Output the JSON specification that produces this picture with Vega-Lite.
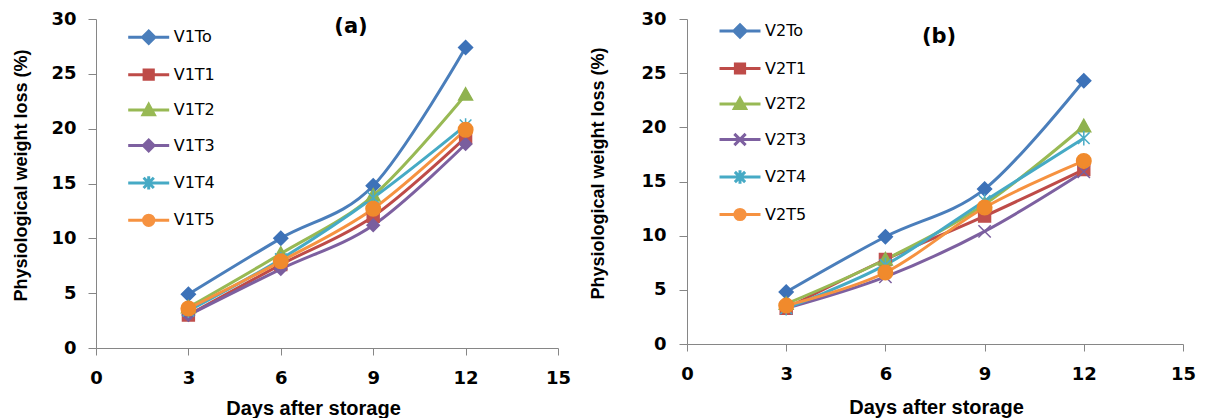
{
  "$schema": "https://vega.github.io/schema/vega-lite/v6.json",
  "background": "white",
  "padding": {"left": 12, "top": 10, "right": 0, "bottom": 0},
  "config": {
    "view": {"stroke": null},
    "axis": {
      "grid": false,
      "domainColor": "#868686",
      "tickColor": "#868686",
      "labelFont": "DejaVu Sans",
      "labelFontSize": 18,
      "labelFontWeight": "bold",
      "labelColor": "black",
      "titleColor": "black",
      "titleFont": "Liberation Sans",
      "titleFontWeight": "bold",
      "labelFlush": false,
      "labelOverlap": false
    }
  },
  "datasets": {
    "a": [
      {"series": "V1To", "day": 3, "loss": 4.9}, {"series": "V1To", "day": 6, "loss": 10.0}, {"series": "V1To", "day": 9, "loss": 14.8}, {"series": "V1To", "day": 12, "loss": 27.4},
      {"series": "V1T1", "day": 3, "loss": 3.0}, {"series": "V1T1", "day": 6, "loss": 7.6}, {"series": "V1T1", "day": 9, "loss": 12.0}, {"series": "V1T1", "day": 12, "loss": 19.2},
      {"series": "V1T2", "day": 3, "loss": 3.7}, {"series": "V1T2", "day": 6, "loss": 8.6}, {"series": "V1T2", "day": 9, "loss": 13.9}, {"series": "V1T2", "day": 12, "loss": 23.1},
      {"series": "V1T3", "day": 3, "loss": 3.0}, {"series": "V1T3", "day": 6, "loss": 7.2}, {"series": "V1T3", "day": 9, "loss": 11.2}, {"series": "V1T3", "day": 12, "loss": 18.6},
      {"series": "V1T4", "day": 3, "loss": 3.4}, {"series": "V1T4", "day": 6, "loss": 8.1}, {"series": "V1T4", "day": 9, "loss": 13.7}, {"series": "V1T4", "day": 12, "loss": 20.3},
      {"series": "V1T5", "day": 3, "loss": 3.6}, {"series": "V1T5", "day": 6, "loss": 7.9}, {"series": "V1T5", "day": 9, "loss": 12.7}, {"series": "V1T5", "day": 12, "loss": 19.9}
    ],
    "b": [
      {"series": "V2To", "day": 3, "loss": 4.8}, {"series": "V2To", "day": 6, "loss": 9.9}, {"series": "V2To", "day": 9, "loss": 14.3}, {"series": "V2To", "day": 12, "loss": 24.3},
      {"series": "V2T1", "day": 3, "loss": 3.3}, {"series": "V2T1", "day": 6, "loss": 7.8}, {"series": "V2T1", "day": 9, "loss": 11.8}, {"series": "V2T1", "day": 12, "loss": 16.1},
      {"series": "V2T2", "day": 3, "loss": 3.7}, {"series": "V2T2", "day": 6, "loss": 7.8}, {"series": "V2T2", "day": 9, "loss": 12.9}, {"series": "V2T2", "day": 12, "loss": 20.1},
      {"series": "V2T3", "day": 3, "loss": 3.3}, {"series": "V2T3", "day": 6, "loss": 6.2}, {"series": "V2T3", "day": 9, "loss": 10.4}, {"series": "V2T3", "day": 12, "loss": 15.9},
      {"series": "V2T4", "day": 3, "loss": 3.3}, {"series": "V2T4", "day": 6, "loss": 7.3}, {"series": "V2T4", "day": 9, "loss": 13.2}, {"series": "V2T4", "day": 12, "loss": 19.0},
      {"series": "V2T5", "day": 3, "loss": 3.55}, {"series": "V2T5", "day": 6, "loss": 6.6}, {"series": "V2T5", "day": 9, "loss": 12.6}, {"series": "V2T5", "day": 12, "loss": 16.9}
    ]
  },
  "bounds": "flush",
  "spacing": 129,
  "resolve": {"scale": {"color": "independent", "fill": "independent", "stroke": "independent", "shape": "independent", "x": "independent", "y": "independent"}},
  "hconcat": [
    {
      "width": 462,
      "height": 329,
      "title": {"text": "(a)", "font": "DejaVu Sans", "fontSize": 21, "fontWeight": "bold", "color": "black", "anchor": "middle", "offset": -27, "dx": 24},
      "data": {"name": "a"},
      "resolve": {"scale": {"fill": "independent", "stroke": "independent", "shape": "independent"}},
      "encoding": {
        "x": {"field": "day", "type": "quantitative", "scale": {"domain": [0, 15], "nice": false},
          "axis": {"values": [0, 3, 6, 9, 12, 15], "title": "Days after storage", "tickSize": 7, "labelPadding": 14.5, "titleFontSize": 20, "titleX": 217, "titleY": 50.6}},
        "y": {"field": "loss", "type": "quantitative", "scale": {"domain": [0, 30], "nice": false},
          "axis": {"values": [0, 5, 10, 15, 20, 25, 30], "title": "Physiological weight loss (%)", "tickSize": 8, "labelPadding": 12, "titleFontSize": 18, "titleX": -66, "titleY": 156}}
      },
      "layer": [
        {
          "mark": {"type": "line", "interpolate": "cardinal", "strokeWidth": 3},
          "encoding": {
            "color": {"field": "series", "type": "nominal", "legend": null,
              "scale": {"domain": ["V1To", "V1T1", "V1T2", "V1T3", "V1T4", "V1T5"], "range": ["#4A7EBB", "#BE4B48", "#98B954", "#7D60A0", "#46AAC5", "#F69240"]}}
          }
        },
        {
          "mark": {"type": "point", "filled": true, "size": 210, "strokeWidth": 1.5, "opacity": 1},
          "encoding": {
            "fill": {"field": "series", "type": "nominal", "legend": null,
              "scale": {"domain": ["V1To", "V1T1", "V1T2", "V1T3", "V1T4", "V1T5"], "range": ["#3D72B8", "#C0504D", "#8FB24F", "#7A5E9E", "#4BACC6", "#F08A2C"]}},
            "stroke": {"field": "series", "type": "nominal", "legend": null,
              "scale": {"domain": ["V1To", "V1T1", "V1T2", "V1T3", "V1T4", "V1T5"], "range": ["#3D72B8", "#C0504D", "#8FB24F", "#7A5E9E", "#4BACC6", "#F08A2C"]}},
            "shape": {"field": "series", "type": "nominal", "legend": null,
              "scale": {"domain": ["V1To", "V1T1", "V1T2", "V1T3", "V1T4", "V1T5"], "range": [
                "M0,-0.96L0.96,0L0,0.96L-0.96,0Z",
                "M-0.82,-0.82H0.82V0.82H-0.82Z",
                "M0,-0.95L0.95,0.75H-0.95Z",
                "M0,-0.85L0.85,0L0,0.85L-0.85,0Z",
                "M-0.8,-0.8L0.8,0.8M-0.8,0.8L0.8,-0.8M0,-1V1",
                "circle"]}}
          }
        },
        {
          "transform": [{"filter": "datum.day > 100"}],
          "mark": {"type": "point", "filled": true, "size": 420, "strokeWidth": 3},
          "encoding": {
            "fill": {"field": "series", "type": "nominal",
              "scale": {"domain": ["V1To", "V1T1", "V1T2", "V1T3", "V1T4", "V1T5"], "range": ["#4A7EBB", "#BE4B48", "#98B954", "#7D60A0", "#46AAC5", "#F69240"]},
              "legend": {"title": null, "orient": "none", "legendX": 40.7, "legendY": 6.3, "padding": 0, "symbolSize": 420, "symbolStrokeWidth": 3, "symbolOpacity": 1, "labelFont": "DejaVu Sans", "labelFontSize": 16, "labelColor": "black", "labelOffset": 13, "rowPadding": 12.4}},
            "stroke": {"field": "series", "type": "nominal",
              "scale": {"domain": ["V1To", "V1T1", "V1T2", "V1T3", "V1T4", "V1T5"], "range": ["#4A7EBB", "#BE4B48", "#98B954", "#7D60A0", "#46AAC5", "#F69240"]},
              "legend": {"title": null, "orient": "none", "legendX": 40.7, "legendY": 6.3, "padding": 0, "symbolSize": 420, "symbolStrokeWidth": 3, "symbolOpacity": 1, "labelFont": "DejaVu Sans", "labelFontSize": 16, "labelColor": "black", "labelOffset": 13, "rowPadding": 12.4}},
            "shape": {"field": "series", "type": "nominal",
              "scale": {"domain": ["V1To", "V1T1", "V1T2", "V1T3", "V1T4", "V1T5"], "range": [
                "M-2,0H2M0,-0.6L0.6,0L0,0.6L-0.6,0Z",
                "M-2,0H2M-0.45,-0.45H0.45V0.45H-0.45Z",
                "M-2,0H2M0,-0.55L0.55,0.45H-0.55Z",
                "M-2,0H2M0,-0.52L0.52,0L0,0.52L-0.52,0Z",
                "M-2,0H2M-0.5,-0.5L0.5,0.5M-0.5,0.5L0.5,-0.5M0,-0.65V0.65",
                "M-2,0H2M0.5,0A0.5,0.5 0 1 1 -0.5,0A0.5,0.5 0 1 1 0.5,0Z"]},
              "legend": {"title": null, "orient": "none", "legendX": 40.7, "legendY": 6.3, "padding": 0, "symbolSize": 420, "symbolStrokeWidth": 3, "symbolOpacity": 1, "labelFont": "DejaVu Sans", "labelFontSize": 16, "labelColor": "black", "labelOffset": 13, "rowPadding": 12.4}}
          }
        }
      ]
    },
    {
      "width": 496,
      "height": 325,
      "title": {"text": "(b)", "font": "DejaVu Sans", "fontSize": 21, "fontWeight": "bold", "color": "black", "anchor": "middle", "offset": -37, "dx": 4},
      "data": {"name": "b"},
      "resolve": {"scale": {"fill": "independent", "stroke": "independent", "shape": "independent"}},
      "encoding": {
        "x": {"field": "day", "type": "quantitative", "scale": {"domain": [0, 15], "nice": false},
          "axis": {"values": [0, 3, 6, 9, 12, 15], "title": "Days after storage", "tickSize": 7, "labelPadding": 14.5, "titleFontSize": 20, "titleX": 249, "titleY": 53.6}},
        "y": {"field": "loss", "type": "quantitative", "scale": {"domain": [0, 30], "nice": false},
          "axis": {"values": [0, 5, 10, 15, 20, 25, 30], "title": "Physiological weight loss (%)", "tickSize": 8, "labelPadding": 13, "titleFontSize": 18, "titleX": -80, "titleY": 154}}
      },
      "layer": [
        {
          "mark": {"type": "line", "interpolate": "cardinal", "strokeWidth": 3},
          "encoding": {
            "color": {"field": "series", "type": "nominal", "legend": null,
              "scale": {"domain": ["V2To", "V2T1", "V2T2", "V2T3", "V2T4", "V2T5"], "range": ["#4A7EBB", "#BE4B48", "#98B954", "#7D60A0", "#46AAC5", "#F69240"]}}
          }
        },
        {
          "mark": {"type": "point", "filled": true, "size": 210, "strokeWidth": 1.5, "opacity": 1},
          "encoding": {
            "fill": {"field": "series", "type": "nominal", "legend": null,
              "scale": {"domain": ["V2To", "V2T1", "V2T2", "V2T3", "V2T4", "V2T5"], "range": ["#3D72B8", "#C0504D", "#8FB24F", "#7A5E9E", "#4BACC6", "#F08A2C"]}},
            "stroke": {"field": "series", "type": "nominal", "legend": null,
              "scale": {"domain": ["V2To", "V2T1", "V2T2", "V2T3", "V2T4", "V2T5"], "range": ["#3D72B8", "#C0504D", "#8FB24F", "#7A5E9E", "#4BACC6", "#F08A2C"]}},
            "shape": {"field": "series", "type": "nominal", "legend": null,
              "scale": {"domain": ["V2To", "V2T1", "V2T2", "V2T3", "V2T4", "V2T5"], "range": [
                "M0,-0.96L0.96,0L0,0.96L-0.96,0Z",
                "M-0.82,-0.82H0.82V0.82H-0.82Z",
                "M0,-0.95L0.95,0.75H-0.95Z",
                "M-0.85,-0.85L0.85,0.85M-0.85,0.85L0.85,-0.85",
                "M-0.8,-0.8L0.8,0.8M-0.8,0.8L0.8,-0.8M0,-1V1",
                "circle"]}}
          }
        },
        {
          "transform": [{"filter": "datum.day > 100"}],
          "mark": {"type": "point", "filled": true, "size": 420, "strokeWidth": 3},
          "encoding": {
            "fill": {"field": "series", "type": "nominal",
              "scale": {"domain": ["V2To", "V2T1", "V2T2", "V2T3", "V2T4", "V2T5"], "range": ["#4A7EBB", "#BE4B48", "#98B954", "#7D60A0", "#46AAC5", "#F69240"]},
              "legend": {"title": null, "orient": "none", "legendX": 41, "legendY": 0, "padding": 0, "symbolSize": 420, "symbolStrokeWidth": 3, "symbolOpacity": 1, "labelFont": "DejaVu Sans", "labelFontSize": 16, "labelColor": "black", "labelOffset": 13, "rowPadding": 12.5}},
            "stroke": {"field": "series", "type": "nominal",
              "scale": {"domain": ["V2To", "V2T1", "V2T2", "V2T3", "V2T4", "V2T5"], "range": ["#4A7EBB", "#BE4B48", "#98B954", "#7D60A0", "#46AAC5", "#F69240"]},
              "legend": {"title": null, "orient": "none", "legendX": 41, "legendY": 0, "padding": 0, "symbolSize": 420, "symbolStrokeWidth": 3, "symbolOpacity": 1, "labelFont": "DejaVu Sans", "labelFontSize": 16, "labelColor": "black", "labelOffset": 13, "rowPadding": 12.5}},
            "shape": {"field": "series", "type": "nominal",
              "scale": {"domain": ["V2To", "V2T1", "V2T2", "V2T3", "V2T4", "V2T5"], "range": [
                "M-2,0H2M0,-0.6L0.6,0L0,0.6L-0.6,0Z",
                "M-2,0H2M-0.45,-0.45H0.45V0.45H-0.45Z",
                "M-2,0H2M0,-0.55L0.55,0.45H-0.55Z",
                "M-2,0H2M-0.55,-0.55L0.55,0.55M-0.55,0.55L0.55,-0.55",
                "M-2,0H2M-0.5,-0.5L0.5,0.5M-0.5,0.5L0.5,-0.5M0,-0.65V0.65",
                "M-2,0H2M0.5,0A0.5,0.5 0 1 1 -0.5,0A0.5,0.5 0 1 1 0.5,0Z"]},
              "legend": {"title": null, "orient": "none", "legendX": 41, "legendY": 0, "padding": 0, "symbolSize": 420, "symbolStrokeWidth": 3, "symbolOpacity": 1, "labelFont": "DejaVu Sans", "labelFontSize": 16, "labelColor": "black", "labelOffset": 13, "rowPadding": 12.5}}
          }
        }
      ]
    }
  ]
}
